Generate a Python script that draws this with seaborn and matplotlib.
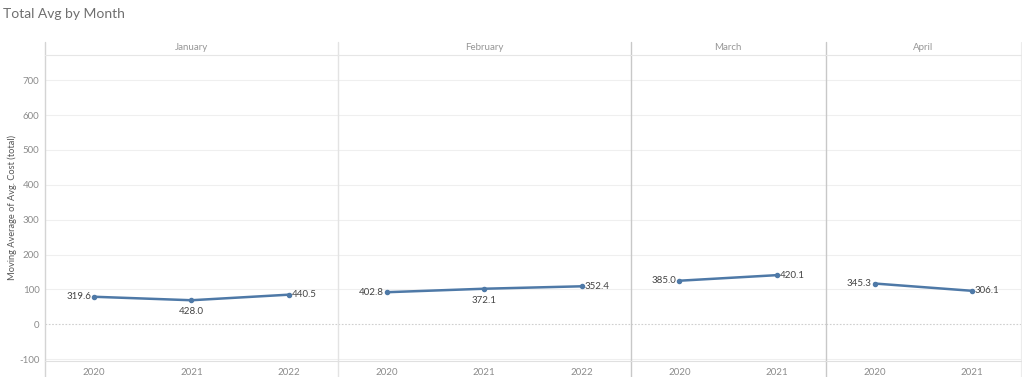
import matplotlib

matplotlib.use("Agg")
import matplotlib.pyplot as plt
import pandas as pd
import seaborn as sns
from matplotlib.lines import Line2D

months = ["January", "February", "March", "April"]
years_by_month = [
    ["2020", "2021", "2022"],
    ["2020", "2021", "2022"],
    ["2020", "2021"],
    ["2020", "2021"],
]
# plotted moving average
values_by_month = [
    [79, 69, 85],
    [92, 102, 109],
    [125, 141],
    [117, 96],
]
# mark labels as shown in the chart
labels_by_month = [
    ["319.6", "428.0", "440.5"],
    ["402.8", "372.1", "352.4"],
    ["385.0", "420.1"],
    ["345.3", "306.1"],
]
y_ticks = [-100, 0, 100, 200, 300, 400, 500, 600, 700]

LINE = "#4e79a7"
FONT = ["Lato", "DejaVu Sans"]

sns.set_theme(style="white")
plt.rcParams["font.family"] = FONT

W, H = 1022, 377
fig = plt.figure(figsize=(W / 100, H / 100), dpi=100)
left_px, right_px, top_px, bottom_px = 45, 1021, 55, 361
gs = fig.add_gridspec(
    1,
    len(months),
    width_ratios=[len(y) for y in years_by_month],
    left=left_px / W,
    right=right_px / W,
    top=1 - top_px / H,
    bottom=1 - bottom_px / H,
    wspace=0,
)

sep_colors = ["#d4d4d4", "#e3e3e3", "#c8c8c8", "#c8c8c8"]
head_frac = (top_px - 42) / (bottom_px - top_px)
foot_frac = (H - bottom_px) / (bottom_px - top_px)

for i, month in enumerate(months):
    ax = fig.add_subplot(gs[0, i])
    df = pd.DataFrame(
        {
            "year": years_by_month[i],
            "value": values_by_month[i],
            "label": labels_by_month[i],
        }
    )
    sns.pointplot(
        data=df,
        x="year",
        y="value",
        color=LINE,
        markers="o",
        markersize=2.6,
        linewidth=1.8,
        errorbar=None,
        ax=ax,
    )
    n = len(df)
    ax.set_xlim(-0.5, n - 0.5)
    ax.set_ylim(-105.3, 772.5)

    for y in y_ticks:
        if y == 0:
            ax.axhline(0, color="#cfcfcf", lw=0.8, ls=(0, (1.5, 1.5)), zorder=0)
        else:
            ax.axhline(y, color="#efefef", lw=0.8, zorder=0)

    for j, row in df.iterrows():
        if j == 0:
            off, ha, va = (-2.0, 0), "right", "center"
        elif j == n - 1:
            off, ha, va = (2.0, 0), "left", "center"
        else:
            off, ha, va = (0, -5.0), "center", "top"
        ax.annotate(
            row["label"],
            (j, row["value"]),
            xytext=off,
            textcoords="offset points",
            ha=ha,
            va=va,
            fontsize=7,
            color="#444444",
        )

    for side in ["right", "left"]:
        ax.spines[side].set_visible(False)
    ax.spines["top"].set_color("#e6e6e6")
    ax.spines["top"].set_linewidth(0.8)
    ax.spines["bottom"].set_color("#e0e0e0")
    ax.spines["bottom"].set_linewidth(0.8)

    # panel separator running from header to footer
    ax.add_line(
        Line2D(
            [0, 0],
            [-foot_frac, 1 + head_frac],
            transform=ax.transAxes,
            color=sep_colors[i],
            lw=1.0,
            clip_on=False,
        )
    )
    if i == len(months) - 1:
        ax.add_line(
            Line2D(
                [1, 1],
                [-foot_frac, 1 + head_frac],
                transform=ax.transAxes,
                color="#ececec",
                lw=0.8,
                clip_on=False,
            )
        )

    ax.text(
        0.5,
        1 + head_frac / 2 + 0.003,
        month,
        transform=ax.transAxes,
        ha="center",
        va="center",
        fontsize=7,
        color="#969696",
    )

    ax.set_xlabel("")
    ax.set_ylabel("")
    ax.set_xticks(range(n))
    ax.set_xticklabels(years_by_month[i])
    ax.set_xticks([k + 0.5 for k in range(n - 1)], minor=True)
    ax.tick_params(axis="x", which="major", length=0, pad=5, labelsize=7, labelcolor="#8c8c8c")
    ax.tick_params(axis="x", which="minor", length=16, width=0.8, color="#eeeeee", direction="out")

    if i == 0:
        ax.set_yticks(y_ticks)
        ax.set_yticklabels([str(v) for v in y_ticks])
        ax.tick_params(axis="y", length=0, pad=4, labelsize=7, labelcolor="#8c8c8c")
    else:
        ax.set_yticks([])

fig.text(
    12 / W,
    1 - 208 / H,
    "Moving Average of Avg. Cost (total)",
    rotation=90,
    ha="center",
    va="center",
    fontsize=6.7,
    color="#555555",
)
fig.text(3 / W, 1 - 14 / H, "Total Avg by Month", ha="left", va="center", fontsize=10, color="#6f6f6f")

fig.savefig("out.png", dpi=100, facecolor="white")
